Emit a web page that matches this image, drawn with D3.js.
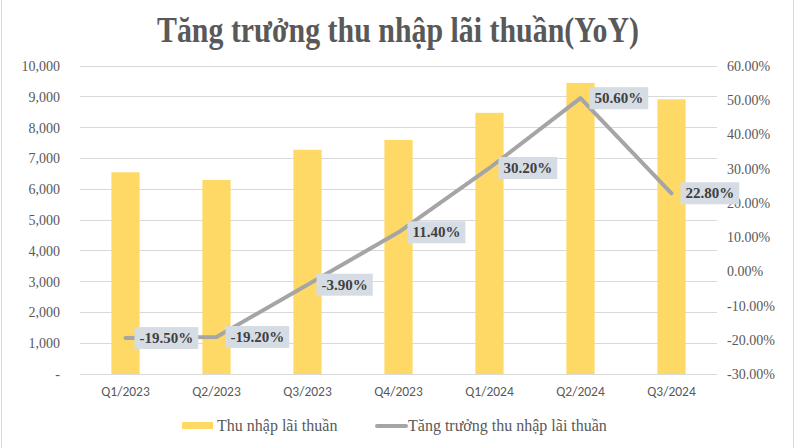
<!DOCTYPE html>
<html><head><meta charset="utf-8">
<script src="https://cdn.jsdelivr.net/npm/d3@7"></script>
<style>body{margin:0;background:#fff}svg{display:block}</style>
</head><body><svg id="c" width="796" height="448"></svg>
<script>
const categories = ["Q1/2023","Q2/2023","Q3/2023","Q4/2023","Q1/2024","Q2/2024","Q3/2024"];
const incomeValues = [6550, 6300, 7280, 7600, 8480, 9450, 8920];
const growthValues = [-19.5, -19.2, -3.9, 11.4, 30.2, 50.6, 22.8];
const leftTicks = [0,1000,2000,3000,4000,5000,6000,7000,8000,9000,10000];
const rightTicks = [-30,-20,-10,0,10,20,30,40,50,60];
const titleText = "Tăng trưởng thu nhập lãi thuần(YoY)";
const seriesNames = ["Thu nhập lãi thuần","Tăng trưởng thu nhập lãi thuần"];

const svg = d3.select("#c");
const W=796,H=448;
const m={l:80,r:79,t:66,b:74};
svg.append("rect").attr("x",1.5).attr("y",-1).attr("width",W-4).attr("height",H+2).attr("fill","#fff").attr("stroke","#d9d9d9");

const x = d3.scaleBand().domain(categories).range([m.l,W-m.r]).paddingInner(0.69).paddingOuter(0.345);
const yL = d3.scaleLinear().domain([0,10000]).range([H-m.b,m.t]);
const yR = d3.scaleLinear().domain([-30,60]).range([H-m.b,m.t]);

// gridlines
svg.append("g").selectAll("line").data(leftTicks).join("line")
 .attr("x1",m.l).attr("x2",W-m.r).attr("y1",d=>yL(d)).attr("y2",d=>yL(d))
 .attr("stroke","#d9d9d9").attr("stroke-width",1).attr("shape-rendering","crispEdges");

// left axis
const fmt = d3.format(",");
const gl = svg.append("g").attr("transform",`translate(${m.l-20},0)`).call(d3.axisLeft(yL).tickValues(leftTicks).tickSize(0).tickPadding(0).tickFormat(d=>d===0?"-":fmt(d)));
gl.select(".domain").remove();
gl.selectAll("text").attr("font-family","Liberation Serif, serif").attr("font-size",14).attr("fill","#595959");

// right axis
const gr = svg.append("g").attr("transform",`translate(${W-m.r+10},0)`).call(d3.axisRight(yR).tickValues(rightTicks).tickSize(0).tickPadding(0).tickFormat(d=>d.toFixed(2)+"%"));
gr.select(".domain").remove();
gr.selectAll("text").attr("font-family","Liberation Serif, serif").attr("font-size",14).attr("fill","#595959");

// x axis
const gx = svg.append("g").attr("transform",`translate(0,${H-m.b})`).call(d3.axisBottom(x).tickSize(0).tickPadding(12));
gx.select(".domain").remove();
gx.selectAll("text").attr("font-family","Carlito, Liberation Sans, sans-serif").attr("font-size",13.5).attr("fill","#595959");

// bars
svg.append("g").selectAll("rect").data(incomeValues).join("rect")
 .attr("x",(d,i)=>x(categories[i])).attr("width",x.bandwidth())
 .attr("y",d=>yL(d)).attr("height",d=>yL(0)-yL(d)).attr("fill","#ffd966");

// line
const cx = i => x(categories[i])+x.bandwidth()/2;
svg.append("path").datum(growthValues)
 .attr("d",d3.line().x((d,i)=>cx(i)).y(d=>yR(d)))
 .attr("fill","none").attr("stroke","#a5a5a5").attr("stroke-width",4).attr("stroke-linejoin","round").attr("stroke-linecap","round");

// labels
const lg = svg.append("g").selectAll("g").data(growthValues).join("g")
 .attr("transform",(d,i)=>`translate(${cx(i)+9},${yR(d)})`);
lg.each(function(d){
  const g=d3.select(this);
  const t=g.append("text").attr("x",5).attr("y",5).text(d.toFixed(2)+"%")
   .attr("font-family","Liberation Serif, serif").attr("font-weight","bold").attr("font-size",15).attr("fill","#404040");
  const w=t.node().getComputedTextLength();
  g.insert("rect","text").attr("x",0).attr("y",-11).attr("width",w+10).attr("height",22).attr("fill","#d6dce4");
});

// title
svg.append("text").attr("x",W/2).attr("y",42).attr("text-anchor","middle")
 .attr("font-family","Liberation Serif, serif").attr("font-weight","bold").attr("font-size",35).attr("fill","#595959")
 .attr("textLength",482).attr("lengthAdjust","spacingAndGlyphs")
 .text(titleText);

// legend
const leg = svg.append("g").attr("transform","translate(0,426)");
leg.append("rect").attr("x",182).attr("y",-4).attr("width",31).attr("height",7).attr("fill","#ffd966");
leg.append("text").attr("x",217).attr("y",5).text(seriesNames[0]).attr("font-family","Liberation Serif, serif").attr("font-size",16).attr("fill","#595959");
leg.append("line").attr("x1",377).attr("x2",406).attr("y1",0).attr("y2",0).attr("stroke","#a5a5a5").attr("stroke-width",4).attr("stroke-linecap","round");
leg.append("text").attr("x",408).attr("y",5).text(seriesNames[1]).attr("font-family","Liberation Serif, serif").attr("font-size",16).attr("fill","#595959");
</script></body></html>
